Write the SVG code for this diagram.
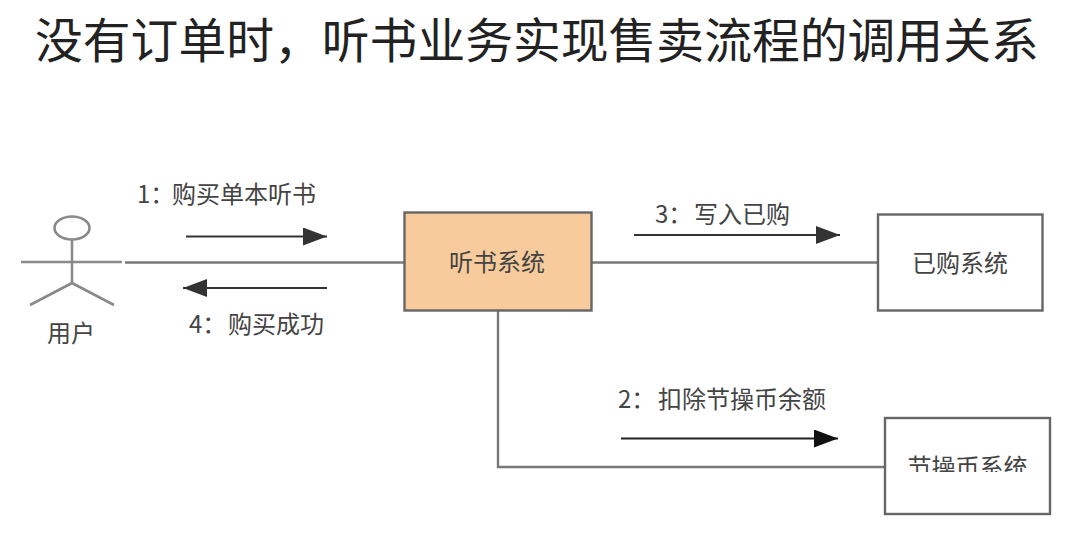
<svg xmlns="http://www.w3.org/2000/svg" width="1083" height="541" viewBox="0 0 1083 541">
<style>
text{font-family:"Noto Sans CJK SC","Liberation Sans",sans-serif;fill:#444}
.t{font-size:24px;font-weight:400}
.c{text-anchor:middle}
.box{stroke:#666;stroke-width:2.400}
.line{fill:none;stroke:#787878;stroke-width:2.400}
.arrow{fill:none;stroke:#333;stroke-width:2.200;marker-end:url(#head)}
.actor{fill:none;stroke:#8a8a8a;stroke-width:2.600}
</style>
<defs>
<marker id="head" markerUnits="userSpaceOnUse" markerWidth="26" markerHeight="20" refX="24" refY="9" orient="auto">
<path d="M0 0L24 9L0 18Z" fill="#333"/>
</marker>
<marker id="headDark" markerUnits="userSpaceOnUse" markerWidth="26" markerHeight="20" refX="24" refY="9" orient="auto">
<path d="M0 0L24 9L0 18Z" fill="#111"/>
</marker>
<clipPath id="cut"><rect x="890" y="440" width="155" height="32"/></clipPath>
</defs>
<rect width="1083" height="541" fill="#fff"/>
<text id="title" x="35" y="58" style="font-size:47.800px;fill:#222">没有订单时，听书业务实现售卖流程的调用关系</text>
<g id="connectors">
<path class="line" d="M125 262.500H404"/>
<path class="line" d="M592 262.500H878"/>
<path class="line" d="M498 311V467H886"/>
<path class="arrow" d="M186 236.500H327"/>
<path class="arrow" d="M327 288H183"/>
<path class="arrow" d="M634 235H840"/>
<path class="arrow" style="stroke:#222;marker-end:url(#headDark)" d="M621 438.500H838"/>
</g>
<g id="user">
<ellipse class="actor" cx="72" cy="228" rx="17.500" ry="11.500"/>
<path class="actor" d="M72 240V283M21 262H122M72 283L30 305M72 283L114 305"/>
<text class="t c" x="71" y="342">用户</text>
</g>
<g id="audiobook">
<rect class="box" x="404.500" y="212.500" width="187" height="98" fill="#f7cb9b"/>
<text class="t c" x="497" y="271">听书系统</text>
</g>
<g id="purchased">
<rect class="box" x="878" y="214.500" width="164.500" height="96" fill="#fff"/>
<text class="t c" x="960" y="272">已购系统</text>
</g>
<g id="coin">
<rect class="box" x="885" y="418" width="165" height="96" fill="#fff"/>
<text class="t c" x="967.500" y="476" clip-path="url(#cut)">节操币系统</text>
</g>
<g id="labels">
<text class="t" x="137" y="203">1：<tspan x="172">购买单本听书</tspan></text>
<text class="t" x="189" y="333">4：<tspan x="228">购买成功</tspan></text>
<text class="t" x="655" y="223">3：<tspan x="694">写入已购</tspan></text>
<text class="t" x="618" y="408">2：<tspan x="658">扣除节操币余额</tspan></text>
</g>
</svg>
